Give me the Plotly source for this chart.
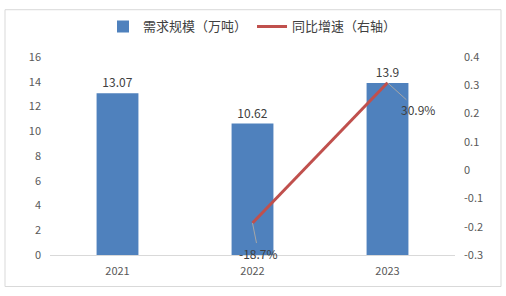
import plotly.graph_objects as go

years = ["2021", "2022", "2023"]
demand = [13.07, 10.62, 13.9]
growth = [None, -0.187, 0.309]
growth_labels = [None, "-18.7%", "30.9%"]
right_ticks = [-0.3, -0.2, -0.1, 0, 0.1, 0.2, 0.3, 0.4]

FONT = "Noto Sans CJK SC"
L, R, T, B = 50, 51, 54, 41
W, H = 506, 296
pw, ph = W - L - R, H - T - B

fig = go.Figure()
fig.add_trace(go.Bar(
    x=years, y=demand, name="需求规模（万吨）",
    marker=dict(color="#4F81BD", line=dict(width=0)),
    text=[f"{v:g}" for v in demand], textposition="outside",
    textfont=dict(size=12, color="#404040", family=FONT),
    cliponaxis=False,
))
fig.add_trace(go.Scatter(
    x=years, y=growth, name="同比增速（右轴）", yaxis="y2",
    mode="lines", line=dict(color="#C0504D", width=3),
))

offsets = {1: (6, 30), 2: (30, 27)}
for i, (yv, lab) in enumerate(zip(growth, growth_labels)):
    if yv is None:
        continue
    ax, ay = offsets[i]
    fig.add_annotation(
        x=i, xref="x", y=yv, yref="y2", text=lab, showarrow=True,
        arrowhead=0, arrowwidth=1, arrowcolor="#A6A6A6",
        ax=ax, ay=ay, font=dict(size=12, color="#404040", family=FONT),
    )

# outer border
fig.add_shape(type="rect", xref="paper", yref="paper",
              x0=(5 - L) / pw, x1=(501 - L) / pw,
              y0=(H - B - 287) / ph, y1=(H - B - 6) / ph,
              line=dict(color="#D9D9D9", width=1), fillcolor="rgba(0,0,0,0)")

fig.update_layout(
    width=W, height=H, margin=dict(l=L, r=R, t=T, b=B),
    paper_bgcolor="white", plot_bgcolor="white",
    font=dict(family=FONT, size=11, color="#595959"),
    bargap=0.69,
    showlegend=True,
    legend=dict(orientation="h", x=0.5, xanchor="center",
                y=(H - B - 23) / ph, yanchor="middle",
                font=dict(size=13, color="#404040", family=FONT),
                itemwidth=30, bgcolor="rgba(0,0,0,0)"),
    xaxis=dict(type="category", range=[-0.5, 2.5], showgrid=False, showline=True,
               linecolor="#D9D9D9", linewidth=1, ticks="",
               tickfont=dict(size=11, color="#595959"), ticklabelstandoff=6),
    yaxis=dict(range=[0, 16], dtick=2, showgrid=False, zeroline=False,
               showline=False, ticks="", ticklabelstandoff=8,
               tickfont=dict(size=11, color="#595959")),
    yaxis2=dict(range=[-0.3, 0.4], tickvals=right_ticks,
                ticktext=[f"{v:g}" for v in right_ticks],
                overlaying="y", side="right",
                showgrid=False, zeroline=False, showline=False, ticks="",
                ticklabelstandoff=8,
                tickfont=dict(size=11, color="#595959")),
)

fig.write_html("out.html")
